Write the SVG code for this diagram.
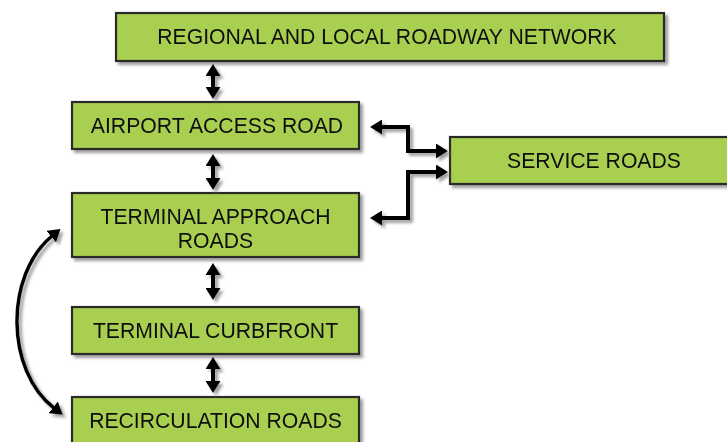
<svg xmlns="http://www.w3.org/2000/svg" width="727" height="442" viewBox="0 0 727 442">
<style>
.box{fill:#A8CF50;stroke:#2b2b2b;stroke-width:2.2}
.lbl{font-family:"Liberation Sans",Arial,sans-serif;font-size:21.2px;fill:#111;text-anchor:middle}
.con{fill:none;stroke:#000;stroke-width:4}
</style>
<defs>
<filter id="sh" x="-10%" y="-10%" width="130%" height="140%">
<feDropShadow dx="3" dy="3" stdDeviation="1.5" flood-color="#777" flood-opacity="0.7"/>
</filter>
<marker id="ah" viewBox="0 0 12 15" markerWidth="12" markerHeight="15" markerUnits="userSpaceOnUse" refX="1" refY="7.5" orient="auto-start-reverse">
<path d="M0,0 L12,7.5 L0,15 z" fill="#000"/>
</marker>
</defs>
<g id="regional" filter="url(#sh)">
<rect class="box" x="116" y="13" width="548" height="48"/>
<text class="lbl" x="387" y="44">REGIONAL AND LOCAL ROADWAY NETWORK</text>
</g>
<g id="airport-access" filter="url(#sh)">
<rect class="box" x="72" y="102" width="287" height="47"/>
<text class="lbl" x="217" y="133">AIRPORT ACCESS ROAD</text>
</g>
<g id="service" filter="url(#sh)">
<rect class="box" x="450" y="137" width="290" height="47"/>
<text class="lbl" x="594" y="168">SERVICE ROADS</text>
</g>
<g id="terminal-approach" filter="url(#sh)">
<rect class="box" x="72" y="193" width="287" height="64"/>
<text class="lbl" x="215.5" y="224">TERMINAL APPROACH</text>
<text class="lbl" x="215.5" y="248">ROADS</text>
</g>
<g id="curbfront" filter="url(#sh)">
<rect class="box" x="72" y="307" width="287" height="47"/>
<text class="lbl" x="215.5" y="338">TERMINAL CURBFRONT</text>
</g>
<g id="recirculation" filter="url(#sh)">
<rect class="box" x="72" y="397" width="287" height="60"/>
<text class="lbl" x="215.5" y="428">RECIRCULATION ROADS</text>
</g>
<g id="connectors" filter="url(#sh)">
<line class="con" x1="213" y1="75" x2="213" y2="88" marker-start="url(#ah)" marker-end="url(#ah)"/>
<line class="con" x1="213" y1="165" x2="213" y2="179" marker-start="url(#ah)" marker-end="url(#ah)"/>
<line class="con" x1="213" y1="274" x2="213" y2="289" marker-start="url(#ah)" marker-end="url(#ah)"/>
<line class="con" x1="213" y1="368" x2="213" y2="382" marker-start="url(#ah)" marker-end="url(#ah)"/>
<path class="con" d="M381,127 H408 V151 H437" marker-start="url(#ah)" marker-end="url(#ah)"/>
<path class="con" d="M437,172 H408 V218 H381" marker-start="url(#ah)" marker-end="url(#ah)"/>
<path class="con" style="stroke-width:3.5" d="M52,236 C5,275 5,370 54,408" marker-start="url(#ah)" marker-end="url(#ah)"/>
</g>
</svg>
